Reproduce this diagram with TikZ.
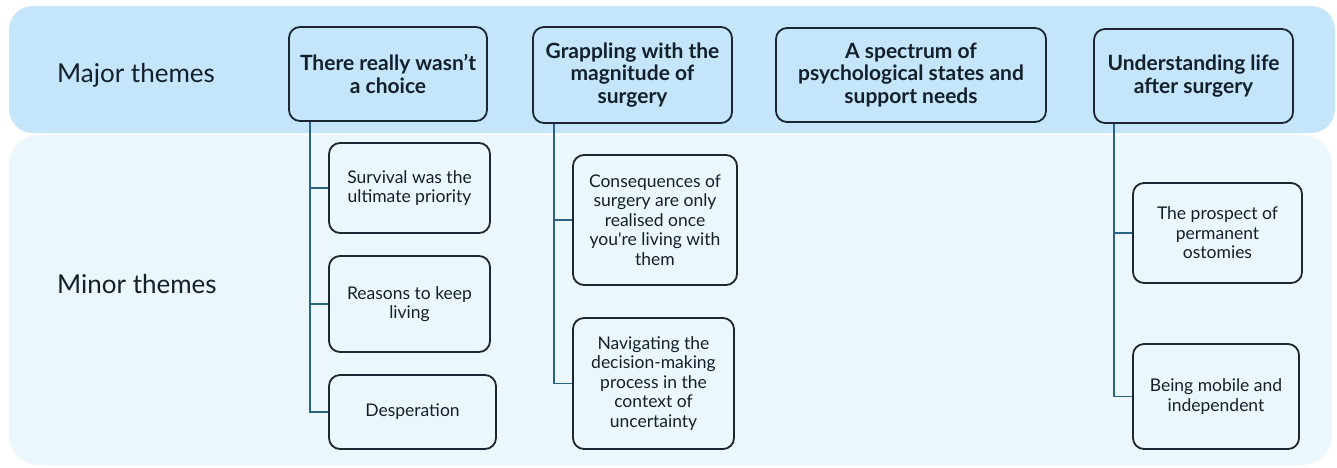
\documentclass[tikz,border=0pt]{standalone}
\usepackage{fontspec}
\setmainfont{Lato}
\newfontfamily\latoplain{Lato}
\usetikzlibrary{calc}
\definecolor{majband}{HTML}{C4E5FA}
\definecolor{minband}{HTML}{EBF6FD}
\definecolor{boxline}{HTML}{1A2633}
\definecolor{conn}{HTML}{2B6585}
\definecolor{txt}{HTML}{13202C}
\tikzset{
  majorbox/.style={draw=boxline, line width=1.8pt, rounded corners=11pt, fill=majband,
    align=center, text=txt, inner sep=2pt, font=\bfseries\fontsize{21}{22.5}\selectfont},
  minorbox/.style={draw=boxline, line width=1.8pt, rounded corners=11pt, fill=minband,
    align=center, text=txt, inner sep=2pt, font=\fontsize{17.5}{19.5}\selectfont},
  bandlabel/.style={text=txt, anchor=west, inner sep=0pt, font=\fontsize{26}{30}\selectfont},
  link/.style={draw=conn, line width=1.8pt},
}
\begin{document}
\begin{tikzpicture}[x=1pt,y=-1pt]
\useasboundingbox (0,0) rectangle (1337,467);
% bands
\fill[majband, rounded corners=24pt] (9,6) rectangle (1335,133);
\fill[minband, rounded corners=30pt] (9,135) rectangle (1332,465);
\node[bandlabel] (lmaj) at (57,75) {Major themes};
\node[bandlabel] (lmin) at (57,284) {Minor themes};
% major boxes
\node[majorbox, minimum width=198pt, minimum height=94pt] (m1) at (388,74) {There really wasn’t\\a choice};
\node[majorbox, minimum width=199pt, minimum height=96pt] (m2) at (632.5,75) {Grappling with the\\magnitude of\\surgery};
\node[majorbox, minimum width=270pt, minimum height=94pt] (m3) at (911,75) {A spectrum of\\psychological states and\\support needs};
\node[majorbox, minimum width=199pt, minimum height=94pt] (m4) at (1193.5,76) {Understanding life\\after surgery};
% minor boxes
\node[minorbox, minimum width=161pt, minimum height=90pt] (s1) at (409.5,188) {Survival was the\\ultimate priority};
\node[minorbox, minimum width=161pt, minimum height=96pt] (s2) at (409.5,304) {Reasons to keep\\living};
\node[minorbox, minimum width=167pt, minimum height=74pt] (s3) at (412.5,412) {Desperation};
\node[minorbox, minimum width=164pt, minimum height=130pt] (c1) at (655,220) {Consequences of\\surgery are only\\realised once\\you{\latoplain'}re living with\\them};
\node[minorbox, minimum width=161pt, minimum height=131pt] (c2) at (653.5,383.5) {Navigating the\\decision-making\\process in the\\context of\\uncertainty};
\node[minorbox, minimum width=169pt, minimum height=100pt] (p1) at (1217.5,233) {The prospect of\\permanent\\ostomies};
\node[minorbox, minimum width=166pt, minimum height=105pt] (p2) at (1216,396.5) {Being mobile and\\independent};
% spines
\coordinate (sp1) at (310,0);
\coordinate (sp2) at (554,0);
\coordinate (sp4) at (1114,0);
\draw[link] (sp1 |- m1.south) |- (s1.west);
\draw[link] (sp1 |- m1.south) |- (s2.west);
\draw[link] (sp1 |- m1.south) |- (s3.west);
\draw[link] (sp2 |- m2.south) |- (c1.west);
\draw[link] (sp2 |- m2.south) |- (c2.west);
\draw[link] (sp4 |- m4.south) |- (p1.west);
\draw[link] (sp4 |- m4.south) |- (p2.west);
\end{tikzpicture}
\end{document}
